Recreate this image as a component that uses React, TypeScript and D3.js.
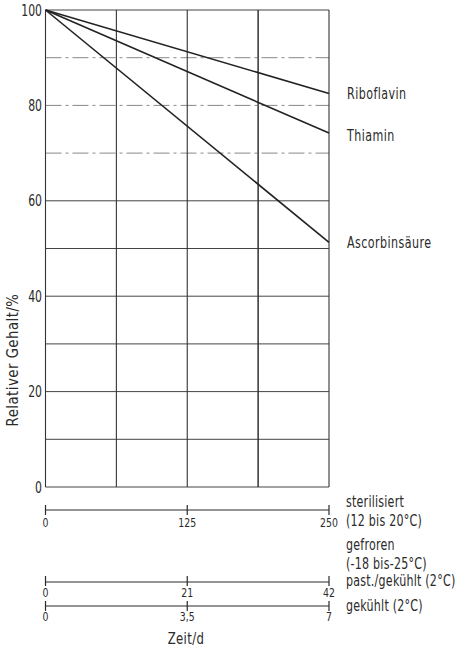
import React from "react";
import * as d3 from "d3";

const FONT = "'DejaVu Sans', sans-serif";

// Data
const timeSteril = [0, 250];
const riboflavin = [100, 82.5];
const thiamin = [100, 74.2];
const ascorbinsaeure = [100, 51.3];
const seriesNames = ["Riboflavin", "Thiamin", "Ascorbinsäure"];
const seriesValues = [riboflavin, thiamin, ascorbinsaeure];

const yTicks = [0, 20, 40, 60, 80, 100];
const yGridSolid = [0, 10, 20, 30, 40, 50, 60, 100];
const yGridDashed = [70, 80, 90];
const xGrid = [0, 62.5, 125, 187.5, 250];

const sterilTicks = [0, 125, 250];
const pastTicks = [0, 21, 42];
const kuehlTicks = [0, 3.5, 7];
const kuehlTickLabels = ["0", "3,5", "7"];

const conditionLabels = [
  "sterilisiert",
  "(12 bis 20°C)",
  "gefroren",
  "(-18 bis-25°C)",
  "past./gekühlt (2°C)",
  "gekühlt (2°C)",
];

const W = 458;
const H = 647;
const x0 = 45.5;
const x1 = 329;
const yTop = 10;
const yBot = 487;
const ink = "#2a2a2a";

function T(props: {
  x: number;
  y: number;
  s?: number;
  size: number;
  anchor?: "start" | "middle" | "end";
  rotate?: number;
  ls?: number;
  children: React.ReactNode;
}) {
  const { x, y, s = 0.8, size, anchor = "start", rotate = 0, ls = 0 } = props;
  return (
    <text
      transform={`translate(${x},${y}) rotate(${rotate}) scale(${s},1)`}
      textAnchor={anchor}
      fontSize={size}
      fill={ink}
      fontFamily={FONT}
      letterSpacing={ls}
    >
      {props.children}
    </text>
  );
}

export default function App() {
  const x = d3.scaleLinear().domain([0, 250]).range([x0, x1]);
  const xPast = d3.scaleLinear().domain([0, 42]).range([x0, x1]);
  const xKuehl = d3.scaleLinear().domain([0, 7]).range([x0, x1]);
  const y = d3.scaleLinear().domain([0, 100]).range([yBot, yTop]);
  const line = d3
    .line<number>()
    .x((_, i) => x(timeSteril[i]))
    .y((d) => y(d));

  const labelEndY = [99, 140.7, 248];
  const condY = [506.5, 526, 550, 569, 586, 611];

  const axisRow = (
    scale: d3.ScaleLinear<number, number>,
    ticks: number[],
    labels: string[],
    yy: number,
    labelY: number,
    tickUp: number,
    tickDown: number
  ) => (
    <g>
      <line x1={scale(ticks[0])} x2={scale(ticks[ticks.length - 1])} y1={yy} y2={yy} stroke={ink} strokeWidth={1.2} />
      {ticks.map((t, i) => (
        <g key={i}>
          <line x1={scale(t)} x2={scale(t)} y1={yy - tickUp} y2={yy + tickDown} stroke={ink} strokeWidth={1.2} />
          <T x={scale(t)} y={labelY} size={13} s={0.72} anchor="middle">
            {labels[i]}
          </T>
        </g>
      ))}
    </g>
  );

  return (
    <svg width={W} height={H} style={{ position: "absolute", left: 0, top: 0, background: "#fff" }}>
      <rect width={W} height={H} fill="#fff" />
      {/* horizontal grid */}
      {yGridSolid.map((v) => (
        <line key={"hs" + v} x1={x0} x2={x1} y1={y(v)} y2={y(v)} stroke="#444" strokeWidth={1} />
      ))}
      {yGridDashed.map((v) => (
        <line key={"hd" + v} x1={x0} x2={x1} y1={y(v)} y2={y(v)} stroke="#888" strokeWidth={1} strokeDasharray="16 4 3 4" />
      ))}
      {/* vertical grid */}
      {xGrid.map((v, i) => (
        <line key={"v" + v} x1={x(v)} x2={x(v)} y1={yTop} y2={yBot} stroke="#333" strokeWidth={i === 3 ? 1.5 : 1.1} />
      ))}
      {/* data lines */}
      {seriesValues.map((s, i) => (
        <path key={i} d={line(s) || ""} fill="none" stroke="#222" strokeWidth={1.6} />
      ))}
      {seriesNames.map((n, i) => (
        <T key={n} x={347} y={labelEndY[i]} size={15} s={0.74} ls={0.6}>
          {n}
        </T>
      ))}
      {/* y tick labels */}
      {yTicks.map((t) => (
        <T key={t} x={42} y={y(t) + 5.5} size={16} s={0.68} anchor="end">
          {t}
        </T>
      ))}
      <T x={18} y={360} size={15} s={0.88} rotate={-90} anchor="middle" ls={0.6}>
        Relativer Gehalt/%
      </T>
      {/* bottom axes */}
      {axisRow(x, sterilTicks, sterilTicks.map(String), 510, 527, 5, 5)}
      {axisRow(xPast, pastTicks, pastTicks.map(String), 582, 597, 6, 4)}
      {axisRow(xKuehl, kuehlTicks, kuehlTickLabels, 606, 621, 5, 5)}
      <T x={186} y={644} size={15} s={0.78} anchor="middle" ls={0.5}>
        Zeit/d
      </T>
      {/* right condition labels */}
      {conditionLabels.map((t, i) => (
        <T key={t} x={346} y={condY[i]} size={15} s={0.74} ls={0.3}>
          {t}
        </T>
      ))}
    </svg>
  );
}
